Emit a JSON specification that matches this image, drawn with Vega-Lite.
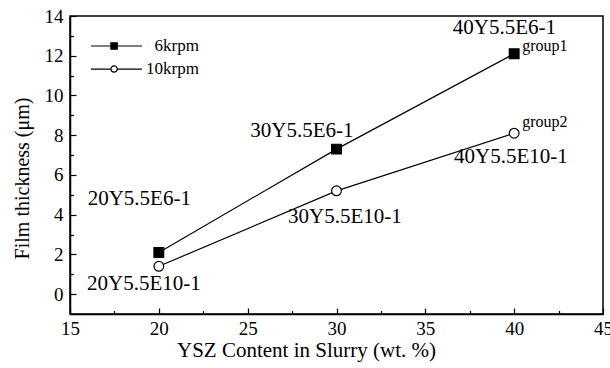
{
  "$schema": "https://vega.github.io/schema/vega-lite/v6.json",
  "width": 533,
  "height": 298,
  "autosize": {"type": "none"},
  "padding": {"left": 70, "top": 16, "right": 7, "bottom": 54},
  "background": "white",
  "config": {
    "view": {"stroke": "black", "strokeWidth": 1.5},
    "font": "Liberation Serif",
    "text": {"font": "Liberation Serif"},
    "axis": {"grid": false, "domainColor": "black", "domainWidth": 1.5, "tickColor": "black", "tickWidth": 1.2, "labelColor": "black", "titleColor": "black", "labelFont": "Liberation Serif", "titleFont": "Liberation Serif", "labelFontSize": 19, "titleFontWeight": "normal"}
  },
  "datasets": {
    "pts": [
      {"series": "6krpm", "x": 20, "y": 2.1},
      {"series": "6krpm", "x": 30, "y": 7.3},
      {"series": "6krpm", "x": 40, "y": 12.1},
      {"series": "10krpm", "x": 20, "y": 1.4},
      {"series": "10krpm", "x": 30, "y": 5.2},
      {"series": "10krpm", "x": 40, "y": 8.1}
    ],
    "labels": [
      {"label": "20Y5.5E6-1", "x": 18.9, "y": 4.78},
      {"label": "20Y5.5E10-1", "x": 19.16, "y": 0.5},
      {"label": "30Y5.5E6-1", "x": 28.05, "y": 8.2},
      {"label": "30Y5.5E10-1", "x": 30.47, "y": 3.88},
      {"label": "40Y5.5E6-1", "x": 39.45, "y": 13.39},
      {"label": "40Y5.5E10-1", "x": 39.82, "y": 6.9}
    ],
    "groups": [
      {"label": "group1", "x": 40.45, "y": 12.47},
      {"label": "group2", "x": 40.45, "y": 8.66}
    ],
    "legend": [
      {"series": "6krpm", "x1": 16.18, "x2": 19.05, "xm": 17.48, "y": 12.49, "tx": 22.26},
      {"series": "10krpm", "x1": 16.18, "x2": 19.05, "xm": 17.48, "y": 11.33, "tx": 22.26}
    ]
  },
  "resolve": {"axis": {"y": "independent"}},
  "layer": [
    {
      "data": {"name": "pts"},
      "mark": {"type": "line", "color": "black", "strokeWidth": 1.2},
      "encoding": {
        "x": {"field": "x", "type": "quantitative", "scale": {"domain": [15, 45], "nice": false},
          "axis": {"values": [15, 17.5, 20, 22.5, 25, 27.5, 30, 32.5, 35, 37.5, 40, 42.5, 45],
            "labelExpr": "datum.value % 5 === 0 ? datum.label : ''",
            "tickSize": {"condition": {"test": "datum.value % 5 === 0", "value": -6}, "value": -3.5},
            "labelPadding": 11, "labelFlush": false, "labelOverlap": false,
            "title": "YSZ Content in Slurry (wt. %)", "titleFontSize": 21, "titleX": 236, "titleY": 36, "titleAlign": "center", "titleBaseline": "middle"}},
        "y": {"field": "y", "type": "quantitative", "scale": {"domain": [-1, 14], "nice": false},
          "axis": {"orient": "left", "values": [0, 2, 4, 6, 8, 10, 12, 14],
            "tickSize": -6,
            "labelPadding": 13, "labelFlush": false, "labelOverlap": false,
            "title": "Film thickness (μm)", "titleFontSize": 20, "titleX": -48, "titleY": 162, "titleAngle": -90, "titleAlign": "center", "titleBaseline": "middle"}},
        "detail": {"field": "series"}
      }
    },
    {
      "data": {"name": "pts"},
      "mark": {"type": "point", "filled": false, "opacity": 1, "strokeWidth": 1.2, "size": 95},
      "encoding": {
        "x": {"field": "x", "type": "quantitative"},
        "y": {"field": "y", "type": "quantitative",
          "axis": {"orient": "left", "values": [-1, 1, 3, 5, 7, 9, 11, 13], "tickSize": -3.5, "labels": false, "domain": false, "title": null}},
        "shape": {"field": "series", "type": "nominal", "scale": {"domain": ["6krpm", "10krpm"], "range": ["square", "circle"]}, "legend": null},
        "fill": {"field": "series", "type": "nominal", "scale": {"domain": ["6krpm", "10krpm"], "range": ["black", "white"]}, "legend": null},
        "stroke": {"value": "black"}
      }
    },
    {
      "data": {"name": "legend"},
      "mark": {"type": "rule", "color": "black", "strokeWidth": 1.2},
      "encoding": {
        "x": {"field": "x1", "type": "quantitative"},
        "x2": {"field": "x2"},
        "y": {"field": "y", "type": "quantitative", "axis": null}
      }
    },
    {
      "data": {"name": "legend"},
      "mark": {"type": "point", "filled": false, "opacity": 1, "strokeWidth": 1.2, "size": 40},
      "encoding": {
        "x": {"field": "xm", "type": "quantitative"},
        "y": {"field": "y", "type": "quantitative", "axis": null},
        "shape": {"field": "series", "type": "nominal", "legend": null},
        "fill": {"field": "series", "type": "nominal", "legend": null},
        "stroke": {"value": "black"}
      }
    },
    {
      "data": {"name": "legend"},
      "mark": {"type": "text", "align": "right", "baseline": "middle", "fontSize": 17, "font": "Liberation Serif", "color": "black"},
      "encoding": {
        "x": {"field": "tx", "type": "quantitative"},
        "y": {"field": "y", "type": "quantitative", "axis": null},
        "text": {"field": "series"}
      }
    },
    {
      "data": {"name": "labels"},
      "mark": {"type": "text", "align": "center", "baseline": "middle", "fontSize": 21, "font": "Liberation Serif", "color": "black"},
      "encoding": {
        "x": {"field": "x", "type": "quantitative"},
        "y": {"field": "y", "type": "quantitative", "axis": null},
        "text": {"field": "label"}
      }
    },
    {
      "data": {"name": "groups"},
      "mark": {"type": "text", "align": "left", "baseline": "middle", "fontSize": 16, "font": "Liberation Serif", "color": "black"},
      "encoding": {
        "x": {"field": "x", "type": "quantitative"},
        "y": {"field": "y", "type": "quantitative", "axis": null},
        "text": {"field": "label"}
      }
    }
  ]
}
